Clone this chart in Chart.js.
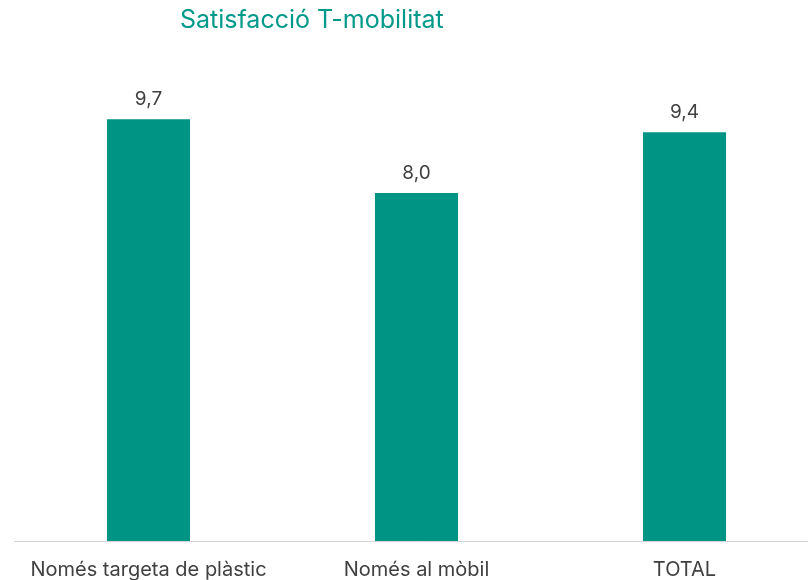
<!DOCTYPE html>
<html>
<head>
<meta charset="utf-8">
<script src="https://cdn.jsdelivr.net/npm/chart.js@4"></script>
<style>
  html, body { margin: 0; padding: 0; background: #fff; overflow: hidden; }
  #wrap { position: relative; width: 822px; height: 591px; }
  #title {
    position: absolute; left: 180px; top: 4px;
    font-family: Inter, "Noto Sans", sans-serif; font-size: 25px;
    color: #00998a; white-space: nowrap;
  }
</style>
</head>
<body>
<div id="wrap">
  <div id="title">Satisfacció T-mobilitat</div>
  <canvas id="chart"></canvas>
</div>
<script>
const categories = ['Només targeta de plàstic', 'Només al mòbil', 'TOTAL'];
const satisfaction = [9.7, 8.0, 9.4];

const valueLabels = {
  id: 'valueLabels',
  afterDatasetsDraw(chart) {
    const ctx = chart.ctx;
    const meta = chart.getDatasetMeta(0);
    ctx.save();
    ctx.font = '19px Inter, "Noto Sans", sans-serif';
    ctx.fillStyle = '#404040';
    ctx.textAlign = 'center';
    ctx.textBaseline = 'bottom';
    meta.data.forEach((bar, i) => {
      const v = chart.data.datasets[0].data[i];
      ctx.fillText(v.toFixed(1).replace('.', ','), bar.x, bar.y - 10);
    });
    ctx.restore();
  }
};

const config = {
  type: 'bar',
  data: {
    labels: categories,
    datasets: [{
      label: 'Satisfacció',
      data: satisfaction,
      backgroundColor: '#009485',
      borderWidth: 0,
      barPercentage: 0.31,
      categoryPercentage: 1.0
    }]
  },
  options: {
    responsive: true,
    maintainAspectRatio: false,
    animation: false,
    layout: { padding: { left: 14.5, right: 3.5, top: 30, bottom: 0 } },
    plugins: {
      legend: { display: false },
      tooltip: { enabled: false },
      title: { display: false }
    },
    scales: {
      x: {
        grid: { display: false },
        border: { display: true, color: '#d4d4d4', width: 1 },
        ticks: {
          color: '#404040',
          padding: 9,
          maxRotation: 0,
          font: { family: 'Inter, "Noto Sans", sans-serif', size: 20 }
        }
      },
      y: {
        display: false,
        min: 0,
        max: 11.75
      }
    }
  },
  plugins: [valueLabels]
};

new Chart(document.getElementById('chart'), config);
</script>
</body>
</html>
